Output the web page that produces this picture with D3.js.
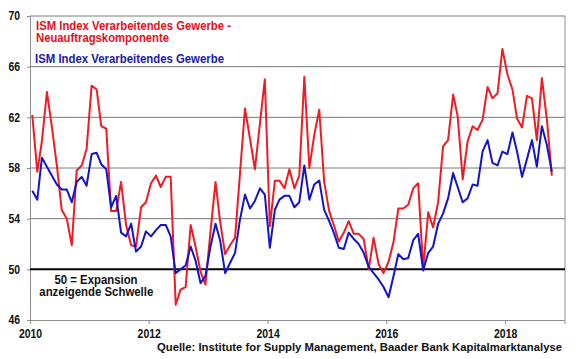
<!DOCTYPE html>
<html>
<head>
<meta charset="utf-8">
<script src="https://cdn.jsdelivr.net/npm/d3@7"></script>
<style>
  body { margin: 0; background: #fff; }
  text { font-family: "Liberation Sans", Arial, sans-serif; font-weight: bold; }
</style>
</head>
<body>
<svg id="chart"></svg>
<script>
// chart size and plot box
const w = 580;
const h = 359;
const plotL = 30, plotR = 565, plotT = 16, plotB = 320;

// monthly values, Jan 2010 .. Oct 2018
const newOrders = [
  62.2, 57.7, 60.1, 64.0, 61.3, 58.2, 54.7, 54.0, 51.9, 57.8, 58.2, 59.5,
  64.5, 64.2, 61.3, 61.1, 54.6, 54.6, 56.9, 53.5, 51.9, 51.8, 54.9, 55.3,
  56.8, 57.4, 56.5, 57.3, 57.3, 47.2, 48.4, 48.6, 53.5, 51.8, 49.8, 48.8,
  53.0, 56.9, 53.8, 51.2, 51.9, 52.5, 57.5, 62.7, 60.3, 57.9, 61.5, 65.0,
  53.4, 57.0, 57.0, 56.4, 57.9, 56.4, 57.4, 65.2, 58.0, 60.6, 62.6, 56.9,
  54.6, 53.4, 52.2, 52.9, 53.8, 52.8, 52.8, 52.4, 50.0, 52.5, 50.4, 49.7,
  50.6, 52.2, 54.8, 54.8, 55.1, 56.4, 56.8, 50.1, 54.5, 53.3, 55.3, 59.7,
  60.2, 63.8, 62.1, 57.1, 60.1, 61.3, 61.0, 61.8, 64.4, 63.5, 63.9, 67.4,
  65.4, 64.2, 61.9, 61.2, 63.7, 63.5, 60.2, 65.1, 61.8, 57.4
];
const pmi = [
  56.2, 55.5, 58.8, 58.1, 57.4, 56.7, 56.3, 56.3, 55.3, 56.9, 57.3, 56.6,
  59.1, 59.2, 58.3, 57.9, 54.9, 55.8, 52.9, 52.6, 53.6, 51.4, 51.8, 53.0,
  52.6, 53.1, 53.5, 53.5, 52.6, 49.7, 50.0, 50.3, 51.8, 50.7, 48.9, 49.5,
  51.8, 53.6, 52.3, 49.7, 50.5, 51.3, 53.9, 55.9, 54.8, 55.4, 56.4, 55.9,
  51.7, 54.7, 55.5, 55.8, 55.8, 54.9, 55.3, 58.2, 55.5, 56.7, 57.0, 54.7,
  53.8, 52.8, 51.7, 51.6, 52.9, 52.4, 52.0, 51.3, 50.2, 49.7, 49.2, 48.6,
  47.8, 49.5, 51.2, 50.8, 50.9, 52.3, 52.8, 49.9, 51.3, 51.8, 53.6, 54.4,
  55.6, 57.6, 56.5, 55.3, 55.6, 56.7, 56.6, 59.3, 60.2, 58.4, 58.2, 59.3,
  59.1, 60.8, 59.3, 57.3, 58.7, 60.2, 58.1, 61.3, 59.8, 57.7
];
const yTicks = [46, 50, 54, 58, 62, 66, 70];
const xTicks = [2010, 2012, 2014, 2016, 2018];

const svg = d3.select('#chart')
  .attr('width', w)
  .attr('height', h);

// points sit in the middle of each month
const dateOf = i => new Date(2010, i, 15);

const x = d3.scaleTime()
  .domain([new Date(2010, 0, 1), new Date(2019, 0, 1)])
  .range([plotL, plotR - 0.5]);
const y = d3.scaleLinear()
  .domain([46, 70])
  .range([plotB, plotT]);

// horizontal grid
svg.append('g')
  .selectAll('line')
  .data(yTicks.filter(d => d != 46 && d != 50))
  .enter()
  .append('line')
  .attr('x1', plotL).attr('x2', plotR)
  .attr('y1', d => y(d)).attr('y2', d => y(d))
  .attr('stroke', '#7a7a7a')
  .attr('stroke-width', 1);

// right border of the plot
svg.append('line')
  .attr('x1', plotR).attr('x2', plotR)
  .attr('y1', plotT).attr('y2', plotB)
  .attr('stroke', '#8c8c8c');

// y axis
const yAxis = d3.axisLeft(y).tickValues(yTicks).tickSize(3).tickPadding(7);
svg.append('g')
  .attr('transform', 'translate(' + plotL + ',0)')
  .call(yAxis)
  .call(g => g.select('.domain').attr('stroke', '#8c8c8c'))
  .call(g => g.selectAll('.tick line').attr('stroke', '#8c8c8c'))
  .call(g => g.selectAll('text').attr('font-size', 12).attr('fill', '#111'));

// x axis
const xAxis = d3.axisBottom(x)
  .tickValues(xTicks.map(d => new Date(d, 0, 1)))
  .tickFormat(d3.timeFormat('%Y'))
  .tickSize(4)
  .tickPadding(5);
svg.append('g')
  .attr('transform', 'translate(0,' + plotB + ')')
  .call(xAxis)
  .call(g => g.select('.domain').attr('stroke', '#8c8c8c'))
  .call(g => g.selectAll('.tick line').attr('stroke', '#8c8c8c'))
  .call(g => g.selectAll('text').attr('font-size', 12).attr('fill', '#111'));

// squeeze tick labels a little, the original font is narrow
svg.selectAll('.tick text')
  .attr('textLength', function () { return this.getComputedTextLength() * 0.87; })
  .attr('lengthAdjust', 'spacingAndGlyphs');

// 50 threshold line
svg.append('line')
  .attr('x1', plotL).attr('x2', plotR)
  .attr('y1', y(50)).attr('y2', y(50))
  .attr('stroke', '#000')
  .attr('stroke-width', 2);

// series lines
const line = d3.line()
  .x((d, i) => x(dateOf(i)))
  .y(d => y(d));

svg.append('path')
  .datum(newOrders)
  .attr('d', line)
  .attr('fill', 'none')
  .attr('stroke', '#ee1c24')
  .attr('stroke-width', 2)
  .attr('stroke-linejoin', 'round');

svg.append('path')
  .datum(pmi)
  .attr('d', line)
  .attr('fill', 'none')
  .attr('stroke', '#1414c8')
  .attr('stroke-width', 2)
  .attr('stroke-linejoin', 'round');

// texts: [label, x, y, anchor, width, colour, size]
const labels = [
  ['ISM Index Verarbeitendes Gewerbe -', 36, 29.5, 'start', 195, '#e3101a', 12],
  ['Neuauftragskomponente', 36, 42, 'start', 133, '#e3101a', 12],
  ['ISM Index Verarbeitendes Gewerbe', 35, 63, 'start', 189, '#1a1aa8', 12],
  ['50 = Expansion', 96, 283.5, 'middle', 83, '#111', 12],
  ['anzeigende Schwelle', 96.3, 296, 'middle', 114, '#111', 12],
  ['Quelle: Institute for Supply Management, Baader Bank Kapitalmarktanalyse', 562, 350.5, 'end', 405, '#111', 11.5]
];
svg.selectAll('text.lab')
  .data(labels)
  .enter()
  .append('text')
  .attr('class', 'lab')
  .attr('x', d => d[1])
  .attr('y', d => d[2])
  .attr('text-anchor', d => d[3])
  .attr('textLength', d => d[4])
  .attr('lengthAdjust', 'spacingAndGlyphs')
  .attr('font-size', d => d[6])
  .attr('fill', d => d[5])
  .text(d => d[0]);
</script>
</body>
</html>
